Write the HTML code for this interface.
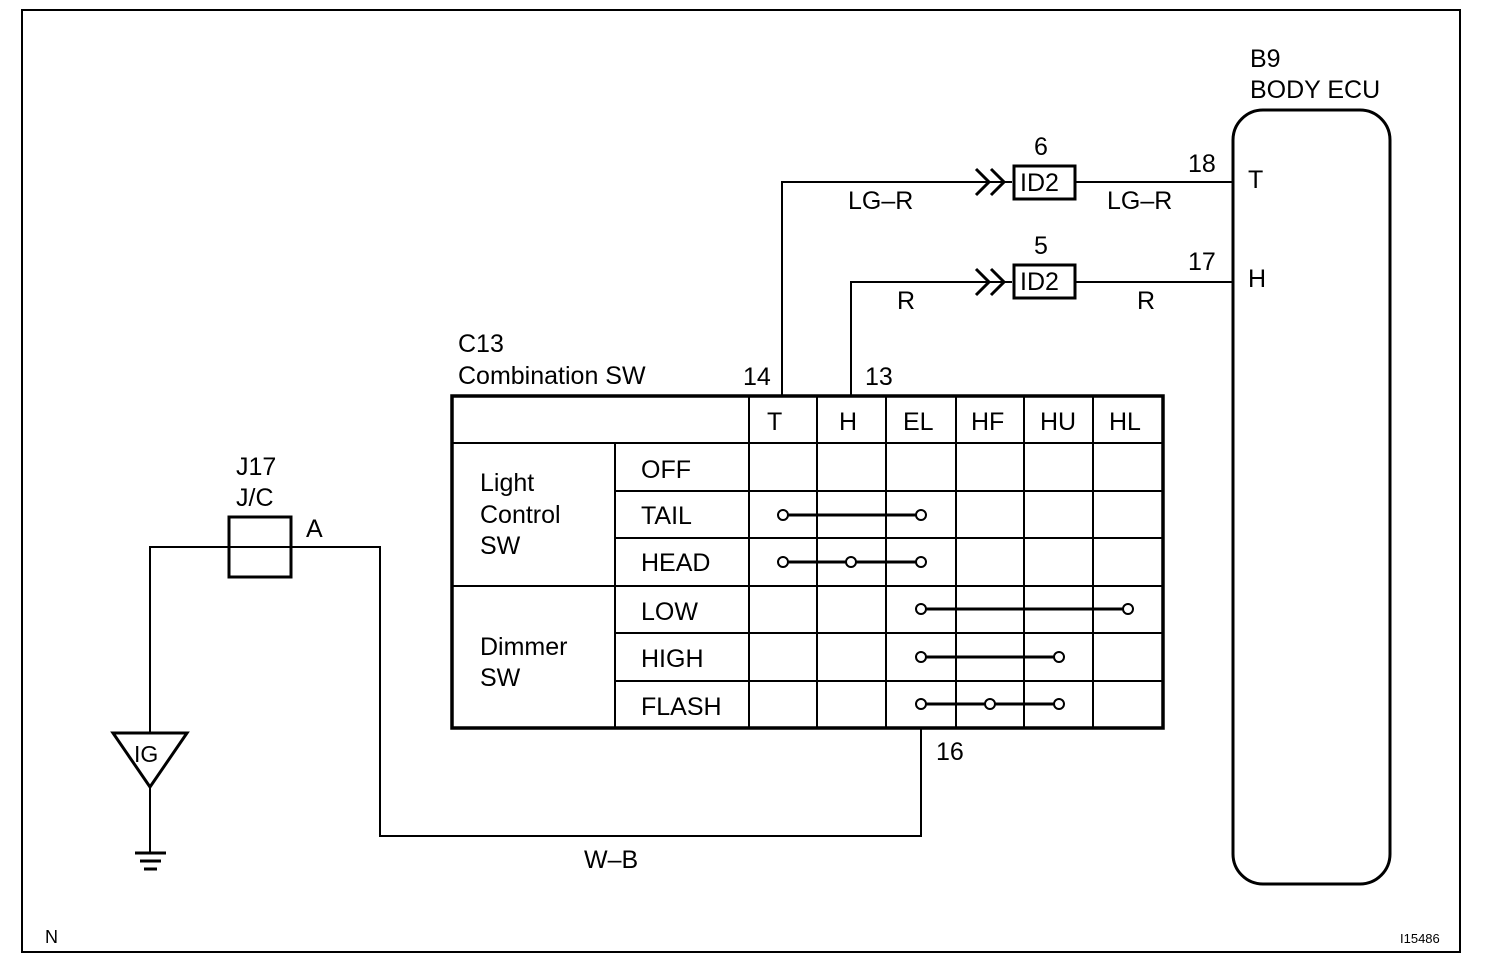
<!DOCTYPE html>
<html><head><style>body{margin:0;background:#fff}svg{display:block}text{font-family:"Liberation Sans",sans-serif;fill:#000}</style></head><body>
<svg width="1504" height="976" viewBox="0 0 1504 976" xmlns="http://www.w3.org/2000/svg">
<g fill="none" stroke="#000">
<rect x="22" y="10" width="1438" height="942" stroke-width="2"/>
<rect x="452" y="396" width="711" height="332" stroke-width="3.5"/>
<g stroke-width="2">
<line x1="452" y1="443" x2="1163" y2="443"/>
<line x1="452" y1="586" x2="1163" y2="586"/>
<line x1="615" y1="491" x2="1163" y2="491"/>
<line x1="615" y1="538" x2="1163" y2="538"/>
<line x1="615" y1="633" x2="1163" y2="633"/>
<line x1="615" y1="681" x2="1163" y2="681"/>
<line x1="615" y1="443" x2="615" y2="728"/>
<line x1="749" y1="396" x2="749" y2="728"/>
<line x1="817" y1="396" x2="817" y2="728"/>
<line x1="886" y1="396" x2="886" y2="728"/>
<line x1="956" y1="396" x2="956" y2="728"/>
<line x1="1024" y1="396" x2="1024" y2="728"/>
<line x1="1093" y1="396" x2="1093" y2="728"/>
<polyline points="782,396 782,182 1012,182"/>
<polyline points="851,396 851,282 1012,282"/>
<line x1="1075" y1="182" x2="1233" y2="182"/>
<line x1="1075" y1="282" x2="1233" y2="282"/>
<polyline points="921,728 921,836 380,836 380,547 150,547 150,733"/>
<line x1="150" y1="787" x2="150" y2="852"/>
</g>
<g stroke-width="3">
<polyline points="976,169 989,182 976,195"/>
<polyline points="991,169 1004,182 991,195"/>
<polyline points="976,269 989,282 976,295"/>
<polyline points="991,269 1004,282 991,295"/>
<rect x="1014" y="166" width="61" height="33"/>
<rect x="1014" y="265" width="61" height="33"/>
<rect x="1233" y="110" width="157" height="774" rx="30"/>
<rect x="229" y="517" width="62" height="60"/>
<polygon points="113,733 187,733 150,787"/>
<line x1="135" y1="853" x2="166" y2="853"/>
<line x1="140" y1="861" x2="161" y2="861"/>
<line x1="144" y1="869" x2="157" y2="869"/>
<line x1="783" y1="515" x2="921" y2="515"/>
<line x1="783" y1="562" x2="921" y2="562"/>
<line x1="921" y1="609" x2="1128" y2="609"/>
<line x1="921" y1="657" x2="1059" y2="657"/>
<line x1="921" y1="704" x2="1059" y2="704"/>
</g>
<g fill="#fff" stroke-width="2">
<circle cx="783" cy="515" r="5"/><circle cx="921" cy="515" r="5"/>
<circle cx="783" cy="562" r="5"/><circle cx="851" cy="562" r="5"/><circle cx="921" cy="562" r="5"/>
<circle cx="921" cy="609" r="5"/><circle cx="1128" cy="609" r="5"/>
<circle cx="921" cy="657" r="5"/><circle cx="1059" cy="657" r="5"/>
<circle cx="921" cy="704" r="5"/><circle cx="990" cy="704" r="5"/><circle cx="1059" cy="704" r="5"/>
</g>
</g>
<g font-size="25">
<text x="1250" y="67">B9</text>
<text x="1250" y="98">BODY ECU</text>
<text x="1034" y="155">6</text>
<text x="1034" y="254">5</text>
<text x="1188" y="172">18</text>
<text x="1188" y="270">17</text>
<text x="1248" y="188">T</text>
<text x="1248" y="287">H</text>
<text x="848" y="209">LG–R</text>
<text x="1107" y="209">LG–R</text>
<text x="897" y="309">R</text>
<text x="1137" y="309">R</text>
<text x="1020" y="191">ID2</text>
<text x="1020" y="290">ID2</text>
<text x="458" y="352">C13</text>
<text x="458" y="384">Combination SW</text>
<text x="743" y="385">14</text>
<text x="865" y="385">13</text>
<text x="767" y="430">T</text>
<text x="839" y="430">H</text>
<text x="903" y="430">EL</text>
<text x="971" y="430">HF</text>
<text x="1040" y="430">HU</text>
<text x="1109" y="430">HL</text>
<text x="480" y="491">Light</text>
<text x="480" y="523">Control</text>
<text x="480" y="554">SW</text>
<text x="480" y="655">Dimmer</text>
<text x="480" y="686">SW</text>
<text x="641" y="478">OFF</text>
<text x="641" y="524">TAIL</text>
<text x="641" y="571">HEAD</text>
<text x="641" y="620">LOW</text>
<text x="641" y="667">HIGH</text>
<text x="641" y="715">FLASH</text>
<text x="936" y="760">16</text>
<text x="584" y="868">W–B</text>
<text x="236" y="475">J17</text>
<text x="236" y="506">J/C</text>
<text x="306" y="537">A</text>
<text x="134" y="762" font-size="23">IG</text>
<text x="45" y="943" font-size="18">N</text>
<text x="1400" y="943" font-size="13">I15486</text>
</g>
</svg>
</body></html>
